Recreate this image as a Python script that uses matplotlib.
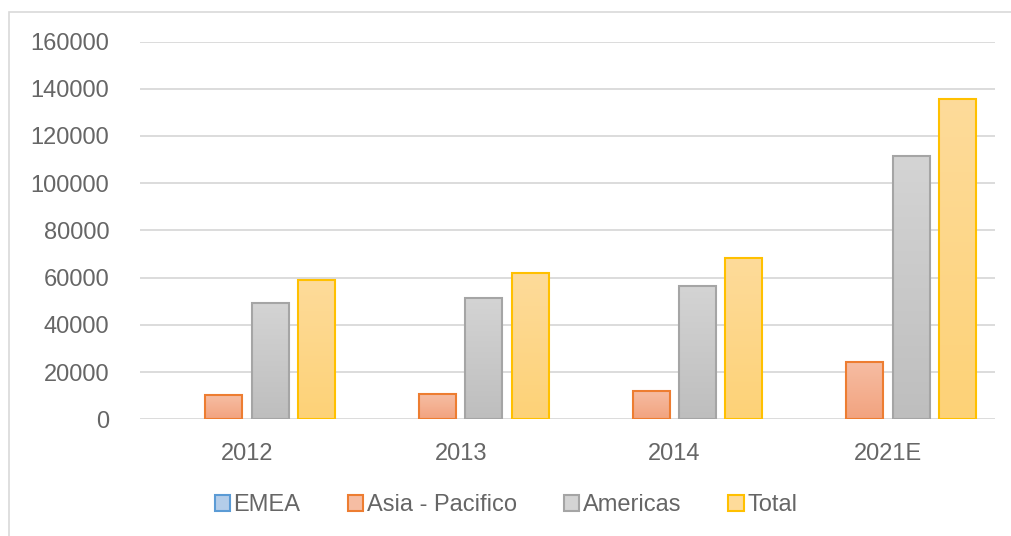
import numpy as np
import matplotlib.pyplot as plt
from matplotlib.patches import Rectangle, Patch
from matplotlib.colors import LinearSegmentedColormap

plt.rcParams['font.family'] = ['Liberation Sans', 'DejaVu Sans']

# dados
anos = ['2012', '2013', '2014', '2021E']
series = ['EMEA', 'Asia - Pacifico', 'Americas', 'Total']
emea = [0, 0, 0, 0]
asia = [10150, 10570, 11970, 24350]
americas = [49300, 51400, 56500, 111330]
total = [59200, 62150, 68330, 135730]
valores = [emea, asia, americas, total]

# cores: borda, topo do gradiente, base do gradiente
bordas = ['#5B9BD5', '#ED7D31', '#A5A5A5', '#FFC000']
topo = ['#B4CDE9', '#F6BDA3', '#D4D4D4', '#FEDB9A']
base = ['#8FB4E0', '#F2A37F', '#BEBEBE', '#FDD277']
cinza = '#666666'
fs = 17

fig = plt.figure(figsize=(10.12, 5.36), dpi=100)
ax = fig.add_axes([140 / 1012, 1 - 419.3 / 536, 855 / 1012, 377.8 / 536])

# moldura do gráfico
fig.patches.append(Rectangle((9 / 1012, -0.05), 1.1, 1.05 - 12 / 536,
                             transform=fig.transFigure, fill=False,
                             edgecolor='#D9D9D9', linewidth=1.2))

x = np.arange(len(anos))
largura = 0.173
passo = 0.217
for i, (nome, vals) in enumerate(zip(series, valores)):
    pos = x + (i - 1.5) * passo
    cmap = LinearSegmentedColormap.from_list(nome, [base[i], topo[i]])
    grad = np.linspace(0, 1, 100).reshape(-1, 1)
    for p, v in zip(pos, vals):
        if v <= 0:
            continue
        ax.imshow(grad, extent=[p - largura / 2, p + largura / 2, 0, v],
                  origin='lower', aspect='auto', cmap=cmap, zorder=2)
    barras = ax.bar(pos, vals, width=largura, fill=False, edgecolor=bordas[i],
                    linewidth=1.5, zorder=3)
    for b, v in zip(barras, vals):
        b.set_visible(v > 0)

ax.set_xlim(-0.5, len(anos) - 0.5)
ax.set_ylim(0, 160000)
ax.set_yticks(np.arange(0, 160001, 20000))
ax.set_xticks(x)
ax.set_xticklabels(anos)
ax.grid(axis='y', color='#D9D9D9', linewidth=1.3, zorder=0)
ax.set_axisbelow(True)
for s in ax.spines.values():
    s.set_visible(False)
ax.tick_params(length=0, labelsize=fs, colors=cinza)
ax.tick_params(axis='y', pad=22)
ax.tick_params(axis='x', pad=17)

handles = [Patch(facecolor=topo[i], edgecolor=bordas[i], linewidth=1.5)
           for i in range(4)]
fig.legend(handles, series, loc='center', bbox_to_anchor=(0.5, 1 - 505 / 536),
           ncol=4, frameon=False, fontsize=fs, labelcolor=cinza,
           handlelength=0.65, handleheight=0.65, handletextpad=0.15,
           columnspacing=2.0)

plt.savefig('out.png', dpi=100)
